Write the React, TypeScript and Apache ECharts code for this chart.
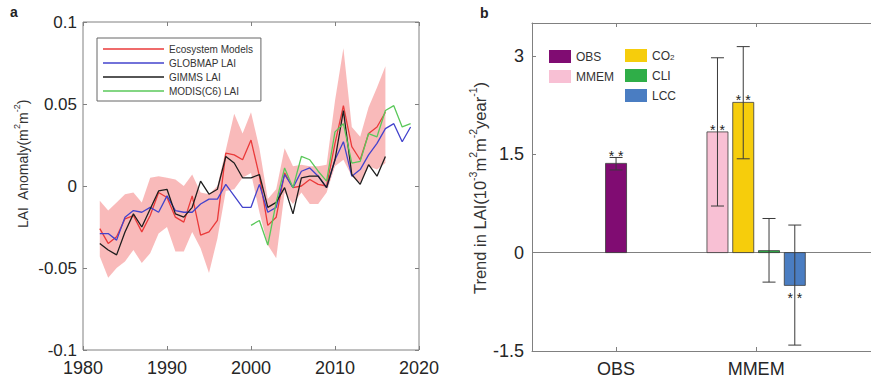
import React, { useEffect, useRef } from 'react';
import * as echarts from 'echarts';

const FONT = '"Liberation Sans", Arial, Helvetica, sans-serif';

function yearRange(a: number, b: number): number[] {
  const out: number[] = [];
  for (let y = a; y <= b; y++) out.push(y);
  return out;
}

// ---------- panel a: LAI anomaly ----------
const modelYears = yearRange(1982, 2016);
const modelMean = [
  -0.026, -0.035, -0.031, -0.020, -0.018, -0.028, -0.018, -0.004, -0.007, -0.019,
  -0.022, -0.006, -0.030, -0.028, -0.021, 0.020, 0.019, 0.016, 0.028, 0.006,
  -0.024, -0.019, 0.008, -0.001, 0.000, 0.004, 0.001, 0.000, 0.026, 0.049,
  0.024, 0.016, 0.032, 0.036, 0.045,
];
const modelUpper = [
  -0.009, -0.015, -0.010, -0.005, -0.004, -0.010, 0.005, 0.006, 0.005, 0.004,
  0.000, 0.007, -0.004, -0.005, 0.000, 0.022, 0.044, 0.032, 0.045, 0.023,
  -0.008, -0.002, 0.023, 0.012, 0.013, 0.012, 0.012, 0.013, 0.052, 0.084,
  0.036, 0.030, 0.048, 0.060, 0.073,
];
const modelLower = [
  -0.043, -0.056, -0.050, -0.046, -0.039, -0.047, -0.041, -0.029, -0.025, -0.040,
  -0.040, -0.028, -0.038, -0.053, -0.032, -0.003, -0.002, 0.005, 0.008, -0.016,
  -0.036, -0.044, -0.004, -0.011, -0.004, -0.011, -0.011, -0.004, 0.012, 0.016,
  0.006, 0.002, 0.012, 0.010, 0.014,
];
const gimmsYears = yearRange(1982, 2016);
const gimms = [
  -0.035, -0.039, -0.042, -0.028, -0.017, -0.025, -0.014, -0.003, -0.002, -0.017,
  -0.019, -0.013, 0.003, -0.005, -0.002, 0.018, 0.014, 0.005, 0.005, 0.007,
  -0.013, -0.010, -0.001, -0.017, 0.005, 0.006, 0.006, -0.001, 0.016, 0.046,
  0.007, 0.001, 0.013, 0.006, 0.018,
];
const globmapYears = yearRange(1982, 2019);
const globmap = [
  -0.029, -0.029, -0.033, -0.019, -0.015, -0.016, -0.013, -0.016, -0.006, -0.015,
  -0.016, -0.016, -0.011, -0.008, -0.008, 0.001, -0.006, -0.013, -0.013, 0.001,
  -0.016, -0.013, 0.007, -0.001, 0.009, 0.011, 0.006, -0.001, 0.016, 0.027,
  0.006, 0.010, 0.019, 0.026, 0.035, 0.038, 0.027, 0.036,
];
const modisYears = yearRange(2000, 2019);
const modis = [
  -0.024, -0.021, -0.036, -0.010, 0.011, -0.001, 0.018, 0.016, 0.009, 0.003,
  0.033, 0.038, 0.014, 0.015, 0.032, 0.030, 0.046, 0.049, 0.036, 0.038,
];
const yearTicks = [1980, 1990, 2000, 2010, 2020];
const anomalyTicks = [-0.1, -0.05, 0, 0.05, 0.1];

// ---------- panel b: trends ----------
const trendCategories = ['OBS', 'MMEM'];
const trendNames = ['OBS', 'MMEM', 'CO2', 'CLI', 'LCC'];
const trendGroup = [1, 2, 2, 2, 2];
const trendValues = [1.36, 1.84, 2.29, 0.03, -0.5];
const trendLow = [1.26, 0.71, 1.43, -0.45, -1.41];
const trendHigh = [1.45, 2.97, 3.14, 0.52, 0.42];
const trendSignificant = [1, 1, 1, 0, 1];
const trendTicks = [-1.5, 0, 1.5, 3];

const trendColors = ['#800c72', '#f8c0d4', '#f6cd0c', '#2fae48', '#4a7dc2'];
const SLOT = 0.184;
const BAR_W = 0.15;

function barX(i: number): number {
  const g = trendGroup[i];
  const members = trendGroup.map((v, k) => (v === g ? k : -1)).filter((k) => k >= 0);
  const j = members.indexOf(i);
  return g + (j - (members.length - 1) / 2) * SLOT;
}

const GRAY = '#808080';
const LABEL = '#262626';

function renderTrend(params: any, api: any) {
  const x = api.value(0);
  const v = api.value(1);
  const lo = api.value(2);
  const hi = api.value(3);
  const sig = api.value(4);
  const p0 = api.coord([x, 0]);
  const pv = api.coord([x, v]);
  const pl = api.coord([x, lo]);
  const ph = api.coord([x, hi]);
  const w = api.size([BAR_W, 0])[0];
  const color = api.visual('color');
  const children: any[] = [
    {
      type: 'rect',
      shape: { x: p0[0] - w / 2, y: Math.min(p0[1], pv[1]), width: w, height: Math.max(1, Math.abs(pv[1] - p0[1])) },
      style: { fill: color, stroke: '#3a3a3a', lineWidth: 0.8 },
    },
    { type: 'line', shape: { x1: pl[0], y1: pl[1], x2: ph[0], y2: ph[1] }, style: { stroke: '#3a3a3a', lineWidth: 1 } },
    { type: 'line', shape: { x1: ph[0] - 6.5, y1: ph[1], x2: ph[0] + 6.5, y2: ph[1] }, style: { stroke: '#3a3a3a', lineWidth: 1 } },
    { type: 'line', shape: { x1: pl[0] - 6.5, y1: pl[1], x2: pl[0] + 6.5, y2: pl[1] }, style: { stroke: '#3a3a3a', lineWidth: 1 } },
  ];
  if (sig) {
    let sy: number;
    if (v >= 0) sy = ph[1] > pv[1] - 12 ? ph[1] - 5 : pv[1] - 6;
    else sy = pv[1] + 9;
    children.push({
      type: 'text',
      style: {
        text: '* *',
        x: pv[0],
        y: sy + 4,
        align: 'center',
        verticalAlign: 'middle',
        textAlign: 'center',
        textVerticalAlign: 'middle',
        font: `14px ${FONT}`,
        fill: '#222',
      },
    });
  }
  return { type: 'group', children };
}

function renderBand(params: any, api: any) {
  if (params.dataIndex !== 0) return null;
  const upper = modelYears.map((y, i) => api.coord([y, modelUpper[i]]));
  const lower = modelYears.map((y, i) => api.coord([y, modelLower[i]])).reverse();
  return {
    type: 'polygon',
    shape: { points: upper.concat(lower) },
    style: { fill: 'rgba(240,90,90,0.42)', stroke: 'none' },
  };
}

function App() {
  const ref = useRef<HTMLDivElement>(null);
  useEffect(() => {
    if (!ref.current) return;
    const chart = echarts.init(ref.current, null, { renderer: 'svg' });

    const axisTick = { show: true, inside: true, length: 4, lineStyle: { color: GRAY, width: 1 } };
    const trendSeries = trendNames.map((name, i) => ({
      type: 'custom',
      name,
      xAxisIndex: 2,
      yAxisIndex: 2,
      itemStyle: { color: trendColors[i] },
      color: trendColors[i],
      renderItem: renderTrend,
      encode: { x: 0, y: 1 },
      data: [[barX(i), trendValues[i], trendLow[i], trendHigh[i], trendSignificant[i]]],
      z: 3,
      ...(i === 0
        ? {
            markLine: {
              silent: true,
              symbol: ['none', 'none'],
              label: { show: false },
              lineStyle: { color: GRAY, type: 'solid', width: 1 },
              data: [{ yAxis: 0 }],
              z: 1,
            },
          }
        : {}),
    }));

    const lineBase = { type: 'line', xAxisIndex: 0, yAxisIndex: 0, symbol: 'none', showSymbol: false, z: 3 };
    const noLine = { show: false, onZero: false };
    const boxLine = { show: true, onZero: false, lineStyle: { color: GRAY, width: 1 } };

    const option: any = {
      animation: false,
      backgroundColor: '#ffffff',
      textStyle: { fontFamily: FONT },
      grid: [
        { left: 83, top: 22, width: 336, height: 328, show: true, borderColor: GRAY, borderWidth: 1, backgroundColor: 'transparent' },
        { left: 532, top: 23, right: 0, height: 328, show: false },
      ],
      xAxis: [
        {
          gridIndex: 0, type: 'value', min: 1980, max: 2020, interval: 10, position: 'bottom',
          axisLine: noLine, axisTick, splitLine: { show: false },
          axisLabel: { customValues: yearTicks, fontSize: 18, color: LABEL, margin: 9, formatter: (v: number) => String(v) },
        },
        {
          gridIndex: 0, type: 'value', min: 1980, max: 2020, interval: 10, position: 'top',
          axisLine: noLine, axisTick, splitLine: { show: false }, axisLabel: { show: false },
        },
        {
          gridIndex: 1, type: 'value', min: 0.4, max: 2.82, position: 'bottom',
          axisLine: boxLine, splitLine: { show: false },
          axisTick: { ...axisTick, customValues: [1, 2] },
          axisLabel: {
            customValues: [1, 2], fontSize: 18, color: LABEL, margin: 9,
            formatter: (v: number) => trendCategories[Math.round(v) - 1] || '',
          },
        },
        {
          gridIndex: 1, type: 'value', min: 0.4, max: 2.82, position: 'top',
          axisLine: boxLine, splitLine: { show: false },
          axisTick: { ...axisTick, customValues: [1, 2] }, axisLabel: { show: false },
        },
      ],
      yAxis: [
        {
          gridIndex: 0, type: 'value', min: -0.1, max: 0.1, interval: 0.05, position: 'left',
          axisLine: noLine, axisTick: { ...axisTick, customValues: anomalyTicks }, splitLine: { show: false },
          axisLabel: {
            customValues: anomalyTicks, fontSize: 17, color: LABEL, margin: 6,
            formatter: (v: number) => String(Math.round(v * 100) / 100),
          },
        },
        {
          gridIndex: 0, type: 'value', min: -0.1, max: 0.1, interval: 0.05, position: 'right',
          axisLine: noLine, axisTick: { ...axisTick, customValues: anomalyTicks }, splitLine: { show: false },
          axisLabel: { show: false },
        },
        {
          gridIndex: 1, type: 'value', min: -1.5, max: 3.5, interval: 1.5, position: 'left',
          axisLine: boxLine, axisTick: { ...axisTick, customValues: trendTicks }, splitLine: { show: false },
          axisLabel: { customValues: trendTicks, fontSize: 18, color: LABEL, margin: 8, formatter: (v: number) => String(v) },
        },
      ],
      legend: [
        {
          data: ['Ecosystem Models', 'GLOBMAP LAI', 'GIMMS LAI', 'MODIS(C6) LAI'],
          orient: 'vertical', left: 97, top: 38, padding: [4, 8, 3, 6],
          icon: 'rect', itemWidth: 61, itemHeight: 1.5, itemGap: 0, selectedMode: false,
          borderColor: '#666', borderWidth: 1, backgroundColor: '#fff',
          textStyle: { fontSize: 10, lineHeight: 14, color: '#333', fontFamily: FONT },
        },
        {
          data: ['OBS', 'MMEM'], orient: 'vertical', left: 549, top: 50, padding: 0,
          itemWidth: 22, itemHeight: 13, itemGap: 7, icon: 'rect', selectedMode: false,
          itemStyle: { borderWidth: 0 },
          textStyle: { fontSize: 12, color: '#333', fontFamily: FONT },
        },
        {
          data: ['CO2', 'CLI', 'LCC'], orient: 'vertical', left: 625, top: 49, padding: 0,
          itemWidth: 22, itemHeight: 13, itemGap: 7, icon: 'rect', selectedMode: false,
          itemStyle: { borderWidth: 0 },
          formatter: (name: string) => (name === 'CO2' ? '{n|CO}{s|2}' : name),
          textStyle: {
            fontSize: 12, color: '#333', fontFamily: FONT,
            rich: {
              n: { fontSize: 12, color: '#333', fontFamily: FONT },
              s: { fontSize: 8, color: '#333', fontFamily: FONT, verticalAlign: 'bottom' },
            },
          },
        },
      ],
      graphic: [
        { type: 'text', x: 10, y: 5, style: { text: 'a', font: `bold 14px ${FONT}`, fill: '#222' } },
        { type: 'text', x: 480, y: 6, style: { text: 'b', font: `bold 14px ${FONT}`, fill: '#222' } },
        {
          type: 'text', x: 21, y: 164, rotation: Math.PI / 2,
          style: {
            text: '{n|LAI  Anomaly(m}{s|2}{n|m}{s|-2}{n|)}',
            align: 'center', verticalAlign: 'middle', textAlign: 'center', textVerticalAlign: 'middle',
            rich: {
              n: { fontSize: 14, fontFamily: FONT, fill: '#333', lineHeight: 18, verticalAlign: 'bottom' },
              s: { fontSize: 9, fontFamily: FONT, fill: '#333', lineHeight: 18, verticalAlign: 'top' },
            },
          },
        },
        {
          type: 'text', x: 478, y: 188, rotation: Math.PI / 2,
          style: {
            text: '{n|Trend in LAI(10}{s|-3}{n|m}{s|2}{n|m}{s|-2}{n|year}{s|-1}{n|)}',
            align: 'center', verticalAlign: 'middle', textAlign: 'center', textVerticalAlign: 'middle',
            rich: {
              n: { fontSize: 16.5, fontFamily: FONT, fill: '#333', lineHeight: 21, verticalAlign: 'bottom' },
              s: { fontSize: 10.5, fontFamily: FONT, fill: '#333', lineHeight: 21, verticalAlign: 'top' },
            },
          },
        },
      ],
      series: [
        {
          type: 'custom', name: 'modelRange', xAxisIndex: 0, yAxisIndex: 0, silent: true, z: 1,
          renderItem: renderBand,
          encode: { x: 0, y: [1, 2] },
          data: modelYears.map((y, i) => [y, modelLower[i], modelUpper[i]]),
        },
        {
          ...lineBase, name: 'Ecosystem Models', color: '#ea3a3a',
          lineStyle: { color: '#ea3a3a', width: 1.3 },
          data: modelYears.map((y, i) => [y, modelMean[i]]),
        },
        {
          ...lineBase, name: 'GLOBMAP LAI', color: '#4343cc',
          lineStyle: { color: '#4343cc', width: 1.3 },
          data: globmapYears.map((y, i) => [y, globmap[i]]),
        },
        {
          ...lineBase, name: 'GIMMS LAI', color: '#1e1e1e',
          lineStyle: { color: '#1e1e1e', width: 1.3 },
          data: gimmsYears.map((y, i) => [y, gimms[i]]),
        },
        {
          ...lineBase, name: 'MODIS(C6) LAI', color: '#5ac85a',
          lineStyle: { color: '#5ac85a', width: 1.3 },
          data: modisYears.map((y, i) => [y, modis[i]]),
        },
        ...trendSeries,
      ],
    };
    chart.setOption(option);
    return () => chart.dispose();
  }, []);
  return <div ref={ref} style={{ position: 'absolute', left: 0, top: 0, width: 871, height: 384 }} />;
}

export default App;
